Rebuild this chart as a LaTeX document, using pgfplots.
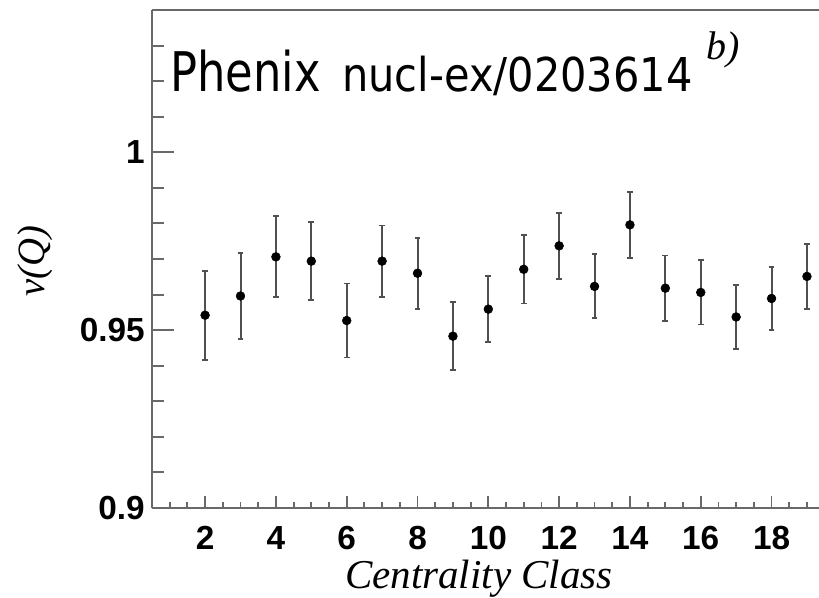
\documentclass[border=0pt]{standalone}
\usepackage{fontspec}
\setmainfont{Liberation Serif}
\newfontfamily\tickfont{Liberation Sans}
\newfontfamily\titlefont{DejaVu Sans}[FakeStretch=0.82]
\newfontfamily\subfont{DejaVu Sans}[FakeStretch=0.89]
\usepackage{pgfplots}
\usepackage{pgfplotstable}
\pgfplotsset{compat=1.18}
\definecolor{axisgray}{RGB}{105,105,105}
\definecolor{barcol}{RGB}{80,80,80}

\pgfplotstableread{
x y e
2 0.9542 0.0125
3 0.9596 0.0122
4 0.9706 0.0114
5 0.9694 0.0110
6 0.9527 0.0104
7 0.9694 0.0100
8 0.9660 0.0100
9 0.9483 0.0095
10 0.9559 0.0092
11 0.9671 0.0096
12 0.9737 0.0093
13 0.9623 0.0090
14 0.9796 0.0092
15 0.9618 0.0092
16 0.9606 0.0090
17 0.9537 0.0090
18 0.9589 0.0089
19 0.9651 0.0092
}\datatable

\begin{document}
\begin{tikzpicture}
\useasboundingbox (0,0) rectangle (614.25pt,-448.5pt);
\pgfplotsset{common/.style={
  scale only axis, width=500.25pt, height=373.5pt,
  xmin=0.5, xmax=19.34, ymin=0.9, ymax=1.04,
  at={(114pt,-381pt)}, anchor=south west,
  axis line style={axisgray, line width=1.4pt},
  tick style={axisgray, line width=1.4pt},
  tick align=inside, clip=false}}
\begin{axis}[common,
  axis x line*=box, axis y line=none,
  xtick={2,4,...,18}, xticklabels={2,4,6,8,10,12,14,16,18},
  minor xtick={1,1.5,...,19},
  xtick pos=left, ytick=\empty,
  major tick length=9pt, minor tick length=4.5pt,
  xticklabel style={font=\tickfont\bfseries\fontsize{25pt}{25pt}\selectfont, anchor=base, yshift=-31.5pt, inner sep=0pt},
  xlabel={\textit{Centrality Class}},
  xlabel style={font=\fontsize{30.75pt}{31pt}\selectfont, at={(rel axis cs:0.49,0)}, anchor=base, yshift=-60pt, inner sep=0pt}]
\end{axis}
\begin{axis}[common,
  axis x line=none, axis y line*=left,
  xtick=\empty,
  ytick={0.9,0.95,1}, yticklabels={0.9,0.95,1},
  minor ytick={0.91,0.92,...,1.035},
  ytick pos=left,
  major tick length=16.5pt, minor tick length=9pt,
  yticklabel style={font=\tickfont\bfseries\fontsize{25pt}{25pt}\selectfont, anchor=east, xshift=-5.25pt, inner sep=0pt},
  ylabel={\textit{v(Q)}},
  ylabel style={font=\fontsize{29pt}{29pt}\selectfont, at={(rel axis cs:-0.1747,0.496)}, anchor=center, inner sep=0pt}]
\addplot[only marks, mark=*, mark size=3.3pt, black,
  error bars/.cd, y dir=both, y explicit,
  error bar style={barcol, line width=1.5pt},
  error mark options={barcol, rotate=90, mark size=2.2pt, line width=1.4pt}]
  table[x=x, y=y, y error=e] {\datatable};
\end{axis}
\node[anchor=base west, inner sep=0pt, font=\titlefont\fontsize{41pt}{41pt}\selectfont] at (127.5pt,-69pt) {Phenix};
\node[anchor=base west, inner sep=0pt, font=\subfont\fontsize{35pt}{35pt}\selectfont] at (256.5pt,-69pt) {nucl-ex/0203614};
\node[anchor=base west, inner sep=0pt, font=\itshape\fontsize{30pt}{30pt}\selectfont] at (530pt,-45pt) {b)};
\end{tikzpicture}
\end{document}
